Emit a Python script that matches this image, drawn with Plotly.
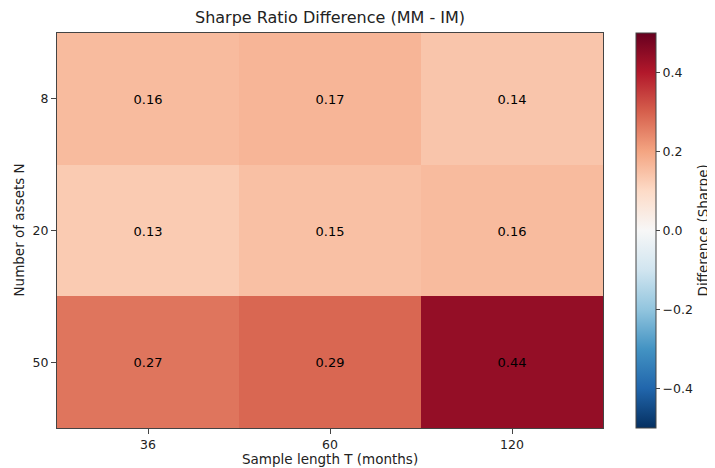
import plotly.graph_objects as go

sample_lengths = ["36", "60", "120"]
asset_counts = ["8", "20", "50"]
diff_values = [
    [0.16, 0.17, 0.14],
    [0.13, 0.15, 0.16],
    [0.27, 0.29, 0.44],
]
cbar_ticks = [-0.4, -0.2, 0.0, 0.2, 0.4]
cbar_ticklabels = ["\u22120.4", "\u22120.2", "0.0", "0.2", "0.4"]

rdbu_r = [
    "#053061", "#2166ac", "#4393c3", "#92c5de", "#d1e5f0", "#f7f7f7",
    "#fddbc7", "#f4a582", "#d6604d", "#b2182b", "#67001f",
]
colorscale = [[i / (len(rdbu_r) - 1), c] for i, c in enumerate(rdbu_r)]

font = "DejaVu Sans"
txt = "#222222"
line = "#444444"

fig = go.Figure(
    go.Heatmap(
        x=sample_lengths,
        y=asset_counts,
        z=diff_values,
        zmin=-0.5,
        zmax=0.5,
        colorscale=colorscale,
        texttemplate="%{z:.2f}",
        textfont=dict(family=font, size=13, color="black"),
        colorbar=dict(
            x=1.0604,
            xanchor="left",
            xref="paper",
            xpad=0,
            y=0.5,
            yanchor="middle",
            ypad=0,
            len=1.0,
            lenmode="fraction",
            thickness=20,
            thicknessmode="pixels",
            outlinecolor=line,
            outlinewidth=1,
            tickmode="array",
            tickvals=cbar_ticks,
            ticktext=cbar_ticklabels,
            ticks="outside",
            ticklen=4,
            tickcolor=line,
            tickfont=dict(family=font, size=12.5, color=txt),
        ),
    )
)

fig.update_layout(
    width=715,
    height=468,
    margin=dict(l=49, r=120, t=25, b=48, autoexpand=False),
    paper_bgcolor="white",
    plot_bgcolor="white",
    font=dict(family=font, color=txt),
    title=dict(
        text="Sharpe Ratio Difference (MM - IM)",
        x=322 / 715,
        xanchor="center",
        y=1 - 9 / 468,
        yanchor="middle",
        font=dict(family=font, size=16, color=txt),
    ),
    annotations=[
        dict(text="Sample length T (months)", xref="paper", yref="paper",
             x=0.5, y=(428 - 459) / 395, xanchor="center", yanchor="middle",
             showarrow=False, font=dict(family=font, size=13.5, color=txt)),
        dict(text="Number of assets N", xref="paper", yref="paper",
             x=(18 - 57) / 546, y=0.5, xanchor="center", yanchor="middle",
             textangle=-90, showarrow=False,
             font=dict(family=font, size=13.5, color=txt)),
        dict(text="Difference (Sharpe)", xref="paper", yref="paper",
             x=(702 - 57) / 546, y=0.5, xanchor="center", yanchor="middle",
             textangle=-90, showarrow=False,
             font=dict(family=font, size=13.5, color=txt)),
    ],
)

fig.update_xaxes(
    type="category",
    automargin=False,
    showline=True,
    linecolor=line,
    linewidth=1,
    mirror=True,
    ticks="outside",
    ticklen=5,
    tickcolor=line,
    tickfont=dict(family=font, size=12.5, color=txt),
    showgrid=False,
    zeroline=False,
)
fig.update_yaxes(
    type="category",
    autorange="reversed",
    automargin=False,
    showline=True,
    linecolor=line,
    linewidth=1,
    mirror=True,
    ticks="outside",
    ticklen=5,
    tickcolor=line,
    tickfont=dict(family=font, size=12.5, color=txt),
    showgrid=False,
    zeroline=False,
)

fig.write_html("out.html")
